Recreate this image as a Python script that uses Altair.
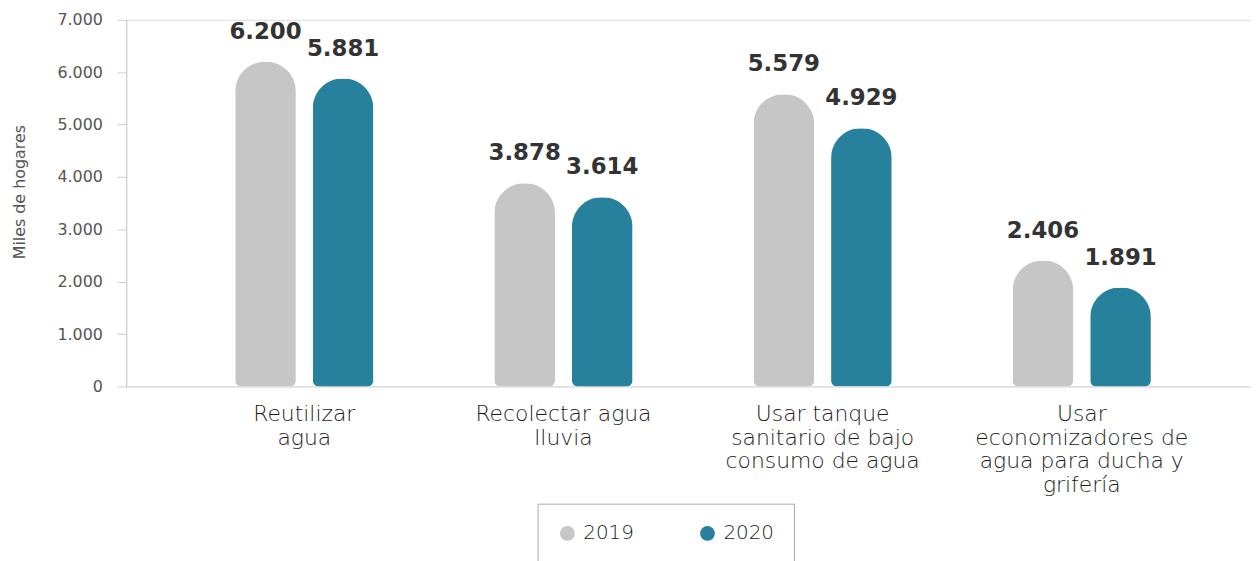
import altair as alt
import pandas as pd

categories = [
    "Reutilizar\nagua",
    "Recolectar agua\nlluvia",
    "Usar tanque\nsanitario de bajo\nconsumo de agua",
    "Usar\neconomizadores de\nagua para ducha y\ngrifería",
]
years = ["2019", "2020"]
values_2019 = [6200, 3878, 5579, 2406]
values_2020 = [5881, 3614, 4929, 1891]

rows = []
for c, a, b in zip(categories, values_2019, values_2020):
    rows.append({"cat": c, "year": "2019", "value": a})
    rows.append({"cat": c, "year": "2020", "value": b})
df = pd.DataFrame(rows)

FONT = "DejaVu Sans"
x = alt.X(
    "cat:N",
    sort=categories,
    scale=alt.Scale(paddingInner=0, paddingOuter=0.17, align=0.55),
    axis=alt.Axis(
        title=None,
        labelAngle=0,
        labelExpr="split(datum.label, '\\n')",
        labelFont=FONT,
        labelFontSize=22,
        labelFontWeight=300,
        labelColor="#1a1a1a",
        labelLineHeight=24,
        labelPadding=17,
        labelBaseline="top",
        labelLimit=400,
        ticks=False,
        domainColor="#d9d9d9",
        domainWidth=1,
    ),
)
xoff = alt.XOffset("year:N", sort=years, scale=alt.Scale(paddingInner=0.218, paddingOuter=0.78))
y = alt.Y(
    "value:Q",
    scale=alt.Scale(domain=[0, 7000], nice=False),
    axis=alt.Axis(
        title="Miles de hogares",
        titleFont=FONT,
        titleFontSize=16,
        titleFontWeight="normal",
        titleColor="#555555",
        titlePadding=30,
        titleY=173,
        values=[0, 1000, 2000, 3000, 4000, 5000, 6000, 7000],
        labelExpr="replace(format(datum.value, ','), ',', '.')",
        labelFont=FONT,
        labelFontSize=16,
        labelFontWeight="normal",
        labelColor="#555555",
        labelPadding=15,
        tickSize=9,
        tickColor="#cccccc",
        domainColor="#cccccc",
        grid=False,
    ),
)
color = alt.Color(
    "year:N",
    sort=years,
    scale=alt.Scale(domain=years, range=["#c6c6c6", "#27819c"]),
    legend=alt.Legend(
        title=None,
        orient="none",
        legendX=414,
        legendY=487,
        direction="horizontal",
        symbolType="circle",
        symbolSize=220,
        symbolStrokeWidth=0,
        labelFont=FONT,
        labelFontSize=20,
        labelFontWeight=300,
        labelColor="#1a1a1a",
        columnPadding=64,
        labelOffset=6,
        strokeColor="#aaaaaa",
        padding=20,
    ),
)

bars = alt.Chart(df).mark_bar(
    cornerRadiusTopLeft=30,
    cornerRadiusTopRight=30,
    cornerRadiusBottomLeft=6,
    cornerRadiusBottomRight=6,
).encode(x=x, xOffset=xoff, y=y, color=color)

text = alt.Chart(df).transform_calculate(
    lab="replace(format(datum.value, ','), ',', '.')"
).mark_text(
    font=FONT, fontSize=23, fontWeight="bold", color="#333333", baseline="alphabetic", dy=-23
).encode(x=x, xOffset=xoff, y=y, text="lab:N")

chart = (
    alt.layer(bars, text)
    .properties(
        width=1132,
        height=369,
        autosize=alt.AutoSizeParams(type="none"),
        padding={"left": 119, "top": 10, "right": 0, "bottom": 200},
    )
    .configure_view(stroke=None)
    .configure(background="white")
)

chart.save("out.html", embed_options={"renderer": "svg", "actions": False})
